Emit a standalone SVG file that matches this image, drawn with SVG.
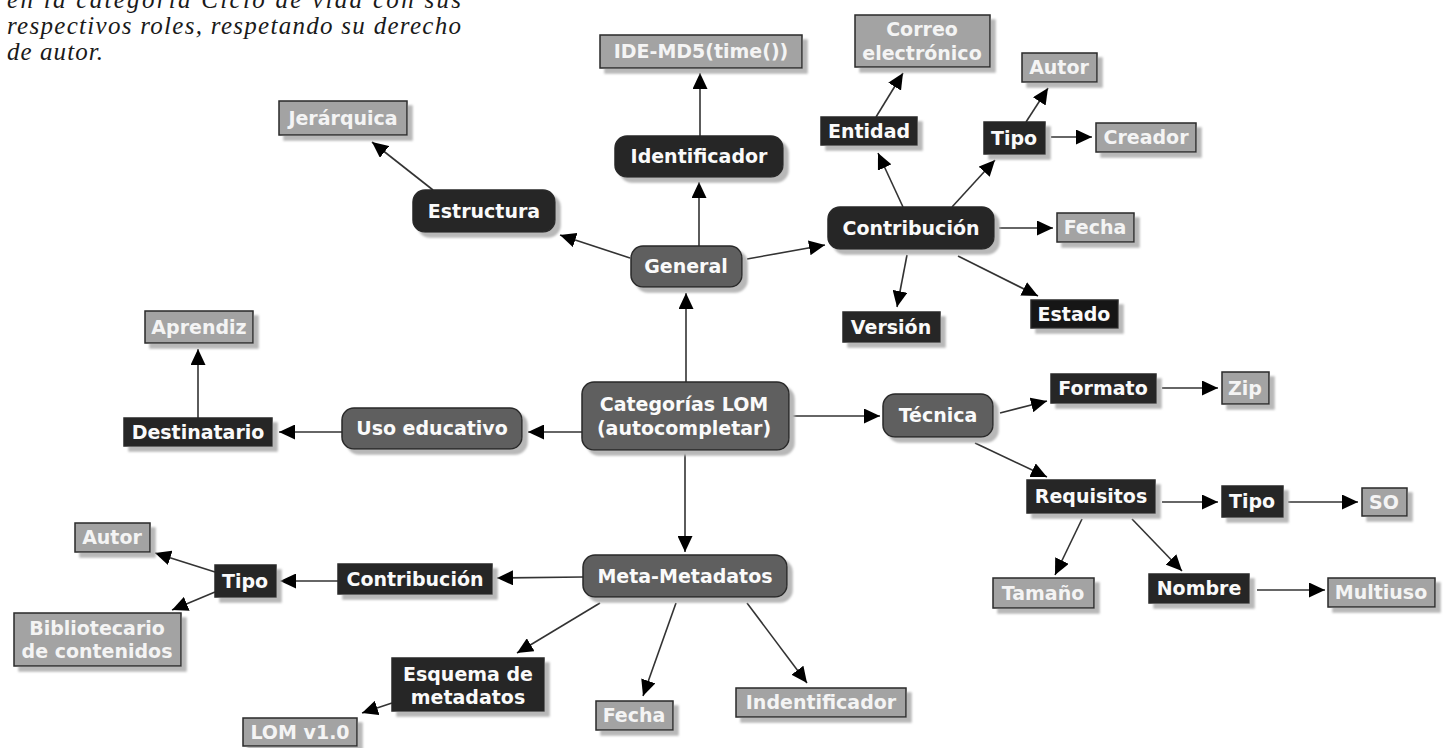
<svg xmlns="http://www.w3.org/2000/svg" width="1447" height="748" viewBox="0 0 1447 748">
<style>
.bg{fill:#fff}
.cap{font-family:"Liberation Serif","Times New Roman",serif;font-style:italic;font-size:25px;fill:#1a1a1a}
.n rect{stroke:#2a2a2a;stroke-width:1.5;filter:url(#sh)}
.lt rect{fill:#a3a3a3}
.dk rect{fill:#272727}
.md rect{fill:#5f5f5f}
.bk rect{fill:#131313}
.n text{font-family:"DejaVu Sans",Verdana,sans-serif;font-weight:bold;font-size:19px;fill:#fafafa;text-anchor:middle}
.lt text{fill:#f4f4f4}
#edges line{stroke:#333;stroke-width:1.6;marker-end:url(#ah)}
</style>
<defs>
<filter id="sh" x="-20%" y="-30%" width="150%" height="180%">
<feDropShadow dx="5" dy="5" stdDeviation="1.2" flood-color="#b8b8b8" flood-opacity="1"/>
</filter>
<marker id="ah" markerUnits="userSpaceOnUse" markerWidth="16" markerHeight="15" viewBox="0 0 16 15" refX="16" refY="7.5" orient="auto">
<path d="M0,0 L16,7.5 L0,15 z" fill="#000"/>
</marker>
</defs>
<rect class="bg" x="0" y="0" width="1447" height="748"/>

<g id="caption">
<text class="cap" x="7" y="8" textLength="454" lengthAdjust="spacing">en la categoría Ciclo de vida con sus</text>
<text class="cap" x="7" y="34" textLength="454" lengthAdjust="spacing">respectivos roles, respetando su derecho</text>
<text class="cap" x="7" y="60" textLength="96" lengthAdjust="spacing">de autor.</text>
</g>

<g id="edges">
<line x1="699" y1="246" x2="699" y2="182"/>
<line x1="700" y1="136" x2="700" y2="73"/>
<line x1="630" y1="258" x2="560" y2="235"/>
<line x1="433" y1="190" x2="372" y2="142"/>
<line x1="747" y1="259" x2="825" y2="245"/>
<line x1="903" y1="207" x2="878" y2="153"/>
<line x1="876" y1="117" x2="903" y2="73"/>
<line x1="952" y1="207" x2="995" y2="160"/>
<line x1="1026" y1="122" x2="1048" y2="88"/>
<line x1="1051" y1="137" x2="1092" y2="137"/>
<line x1="999" y1="228" x2="1053" y2="228"/>
<line x1="907" y1="255" x2="897" y2="307"/>
<line x1="958" y1="256" x2="1038" y2="296"/>
<line x1="686" y1="382" x2="686" y2="293"/>
<line x1="582" y1="432" x2="528" y2="432"/>
<line x1="342" y1="432" x2="279" y2="432"/>
<line x1="198" y1="418" x2="198" y2="349"/>
<line x1="789" y1="416" x2="880" y2="416"/>
<line x1="1000" y1="413" x2="1047" y2="401"/>
<line x1="975" y1="443" x2="1047" y2="477"/>
<line x1="1162" y1="388" x2="1218" y2="388"/>
<line x1="1162" y1="502" x2="1218" y2="502"/>
<line x1="1288" y1="502" x2="1358" y2="502"/>
<line x1="1082" y1="519" x2="1055" y2="575"/>
<line x1="1132" y1="519" x2="1182" y2="571"/>
<line x1="1257" y1="590" x2="1325" y2="590"/>
<line x1="685" y1="450" x2="685" y2="552"/>
<line x1="583" y1="577" x2="497" y2="578"/>
<line x1="338" y1="581" x2="280" y2="581"/>
<line x1="215" y1="572" x2="155" y2="553"/>
<line x1="215" y1="592" x2="172" y2="610"/>
<line x1="600" y1="603" x2="517" y2="653"/>
<line x1="676" y1="603" x2="643" y2="696"/>
<line x1="747" y1="603" x2="807" y2="683"/>
<line x1="392" y1="703" x2="362" y2="713"/>
</g>

<g id="n_ide" class="n lt"><rect x="600" y="35" width="202" height="33"/><text x="701" y="58">IDE-MD5(time())</text></g>
<g id="n_correo" class="n lt"><rect x="855" y="15" width="135" height="52"/><text x="922" y="36">Correo</text><text x="922" y="60">electrónico</text></g>
<g id="n_jerarquica" class="n lt"><rect x="279" y="101" width="128" height="34"/><text x="343" y="125">Jerárquica</text></g>
<g id="n_autor1" class="n lt"><rect x="1022" y="53" width="75" height="29"/><text x="1059" y="74">Autor</text></g>
<g id="n_creador" class="n lt"><rect x="1096" y="123" width="100" height="29"/><text x="1146" y="144">Creador</text></g>
<g id="n_fecha1" class="n lt"><rect x="1057" y="213" width="77" height="29"/><text x="1095" y="234">Fecha</text></g>
<g id="n_aprendiz" class="n lt"><rect x="145" y="311" width="108" height="32"/><text x="199" y="334">Aprendiz</text></g>
<g id="n_zip" class="n lt"><rect x="1222" y="372" width="47" height="32"/><text x="1245" y="395">Zip</text></g>
<g id="n_so" class="n lt"><rect x="1362" y="488" width="45" height="28"/><text x="1384" y="509">SO</text></g>
<g id="n_tamano" class="n lt"><rect x="993" y="578" width="101" height="30"/><text x="1043" y="600">Tamaño</text></g>
<g id="n_multiuso" class="n lt"><rect x="1328" y="578" width="107" height="29"/><text x="1381" y="599">Multiuso</text></g>
<g id="n_autor2" class="n lt"><rect x="75" y="523" width="75" height="29"/><text x="112" y="544">Autor</text></g>
<g id="n_biblio" class="n lt"><rect x="14" y="613" width="167" height="53"/><text x="97" y="635">Bibliotecario</text><text x="97" y="658">de contenidos</text></g>
<g id="n_lom" class="n lt"><rect x="243" y="718" width="114" height="28"/><text x="300" y="739">LOM v1.0</text></g>
<g id="n_fecha2" class="n lt"><rect x="596" y="701" width="77" height="29"/><text x="634" y="722">Fecha</text></g>
<g id="n_indent" class="n lt"><rect x="736" y="688" width="170" height="29"/><text x="821" y="709">Indentificador</text></g>

<g id="n_identificador" class="n dk"><rect x="615" y="136" width="168" height="41" rx="12"/><text x="699" y="163">Identificador</text></g>
<g id="n_estructura" class="n dk"><rect x="413" y="190" width="142" height="42" rx="12"/><text x="484" y="218">Estructura</text></g>
<g id="n_contrib1" class="n dk"><rect x="828" y="207" width="166" height="42" rx="12"/><text x="911" y="235">Contribución</text></g>

<g id="n_entidad" class="n dk"><rect x="821" y="117" width="96" height="28"/><text x="869" y="138">Entidad</text></g>
<g id="n_tipo1" class="n dk"><rect x="984" y="122" width="61" height="32"/><text x="1014" y="145">Tipo</text></g>
<g id="n_version" class="n dk"><rect x="843" y="312" width="97" height="30"/><text x="891" y="334">Versión</text></g>
<g id="n_estado" class="n bk"><rect x="1031" y="300" width="87" height="28"/><text x="1074" y="321">Estado</text></g>
<g id="n_destinatario" class="n dk"><rect x="124" y="418" width="148" height="28"/><text x="198" y="439">Destinatario</text></g>
<g id="n_formato" class="n dk"><rect x="1051" y="374" width="105" height="29"/><text x="1103" y="395">Formato</text></g>
<g id="n_requisitos" class="n dk"><rect x="1027" y="480" width="128" height="33"/><text x="1091" y="503">Requisitos</text></g>
<g id="n_tipo2" class="n dk"><rect x="1222" y="486" width="61" height="31"/><text x="1252" y="508">Tipo</text></g>
<g id="n_nombre" class="n dk"><rect x="1149" y="574" width="100" height="29"/><text x="1199" y="595">Nombre</text></g>
<g id="n_contrib2" class="n dk"><rect x="338" y="564" width="154" height="30"/><text x="415" y="586">Contribución</text></g>
<g id="n_tipo3" class="n dk"><rect x="215" y="565" width="61" height="32"/><text x="245" y="588">Tipo</text></g>
<g id="n_esquema" class="n dk"><rect x="392" y="658" width="152" height="53"/><text x="468" y="681">Esquema de</text><text x="468" y="704">metadatos</text></g>

<g id="n_general" class="n md"><rect x="631" y="246" width="111" height="41" rx="12"/><text x="686" y="273">General</text></g>
<g id="n_categorias" class="n md"><rect x="582" y="382" width="207" height="68" rx="12"/><text x="684" y="411">Categorías LOM</text><text x="684" y="435">(autocompletar)</text></g>
<g id="n_uso" class="n md"><rect x="342" y="408" width="180" height="41" rx="12"/><text x="432" y="435">Uso educativo</text></g>
<g id="n_tecnica" class="n md"><rect x="883" y="394" width="110" height="43" rx="12"/><text x="938" y="422">Técnica</text></g>
<g id="n_meta" class="n md"><rect x="583" y="555" width="204" height="42" rx="12"/><text x="685" y="583">Meta-Metadatos</text></g>
</svg>
